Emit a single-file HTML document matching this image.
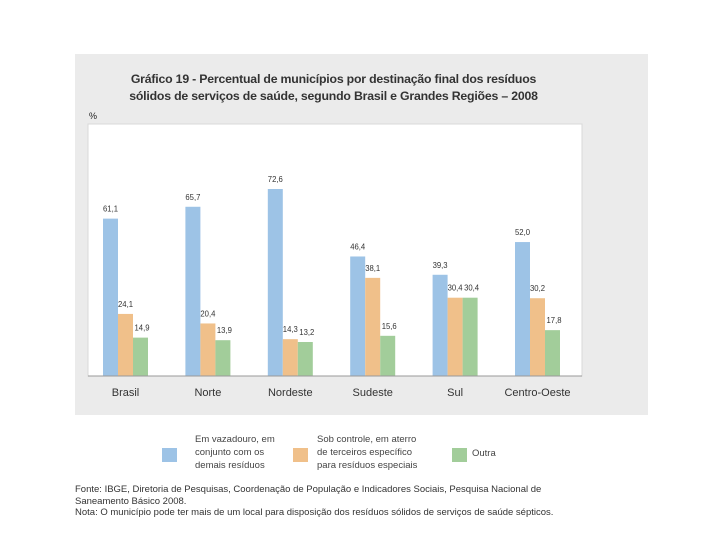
<!DOCTYPE html>
<html><head><meta charset="utf-8"><style>
body{margin:0;width:720px;height:540px;background:#fff;font-family:"Liberation Sans",sans-serif;position:relative;overflow:hidden}
.t{position:absolute;white-space:nowrap;color:#222}
</style></head><body>
<div style="position:absolute;left:75px;top:54px;width:573px;height:361px;background:#ebebeb"></div>
<div class="t" style="left:75px;width:517px;top:71px;text-align:center;font-weight:bold;font-size:12.3px;line-height:17px;color:#333;letter-spacing:-0.2px">Gráfico 19 - Percentual de municípios por destinação final  dos resíduos<br>sólidos de serviços de saúde, segundo Brasil  e Grandes Regiões – 2008</div>
<div class="t" style="left:89px;top:111px;font-size:9px">%</div>
<svg id="c" width="720" height="540" style="position:absolute;left:0;top:0"></svg>
<div>
<div style="position:absolute;left:162px;top:448px;width:15px;height:14px;background:#9dc3e6"></div>
<div class="t" style="left:195px;top:433px;font-size:9.5px;line-height:13px;color:#444">Em vazadouro, em<br>conjunto com os<br>demais resíduos</div>
<div style="position:absolute;left:293px;top:448px;width:15px;height:14px;background:#f0c08a"></div>
<div class="t" style="left:317px;top:433px;font-size:9.5px;line-height:13px;color:#444">Sob controle, em aterro<br>de terceiros específico<br>para resíduos especiais</div>
<div style="position:absolute;left:452px;top:448px;width:15px;height:14px;background:#a2cd9a"></div>
<div class="t" style="left:472px;top:448px;font-size:9.5px;color:#444">Outra</div>
</div>
<div class="t" style="left:75px;top:484px;font-size:9.5px;line-height:11.5px;color:#333">Fonte: IBGE, Diretoria de Pesquisas, Coordenação de População e Indicadores Sociais, Pesquisa Nacional de<br>Saneamento Básico 2008.<br>Nota: O município pode ter mais de um local para disposição dos resíduos sólidos de serviços de saúde sépticos.</div>
<script>
const categories=["Brasil","Norte","Nordeste","Sudeste","Sul","Centro-Oeste"];
const vazadouro=[61.1,65.7,72.6,46.4,39.3,52.0];
const aterro=[24.1,20.4,14.3,38.1,30.4,30.2];
const outra=[14.9,13.9,13.2,15.6,30.4,17.8];
const series=[vazadouro,aterro,outra];
const colors=["#9dc3e6","#f0c08a","#a2cd9a"];
const names=["vazadouro","aterro","outra"];
const svg=document.getElementById('c');
const NS="http://www.w3.org/2000/svg";
const base=376, k=187/72.6, x0=103, step=82.4, bw=15;
const y=v=>base-v*k;
const x=(i,s)=>x0+i*step+s*bw;
function mk(t,a){const e=document.createElementNS(NS,t);for(const n in a)e.setAttribute(n,a[n]);svg.appendChild(e);return e;}
const pa=mk('rect',{x:88,y:124,width:494,height:252,fill:'#fff',stroke:'#d8d8d8'});


series.forEach((vals,s)=>{vals.forEach((v,i)=>{
 const r=mk('rect',{x:x(i,s),y:y(v),width:bw,height:v*k,fill:colors[s]});
 
 
 const t=mk('text',{x:x(i,s)+bw/2+(s==2?1.5:0),y:y(v)-7,'font-size':8.5,'text-anchor':'middle','font-family':'Liberation Sans',fill:'#333',textLength:15,lengthAdjust:'spacingAndGlyphs'});
 t.textContent=v.toFixed(1).replace('.',',');
 
 
});});
const ax=mk('line',{x1:88,x2:582,y1:base,y2:base,stroke:'#999'});


categories.forEach((c,i)=>{
 const t=mk('text',{x:x(i,1)+bw/2,y:396,'font-size':11,'text-anchor':'middle','font-family':'Liberation Sans',fill:'#333'});
 t.textContent=c;
 
 
});
</script>
</body></html>
